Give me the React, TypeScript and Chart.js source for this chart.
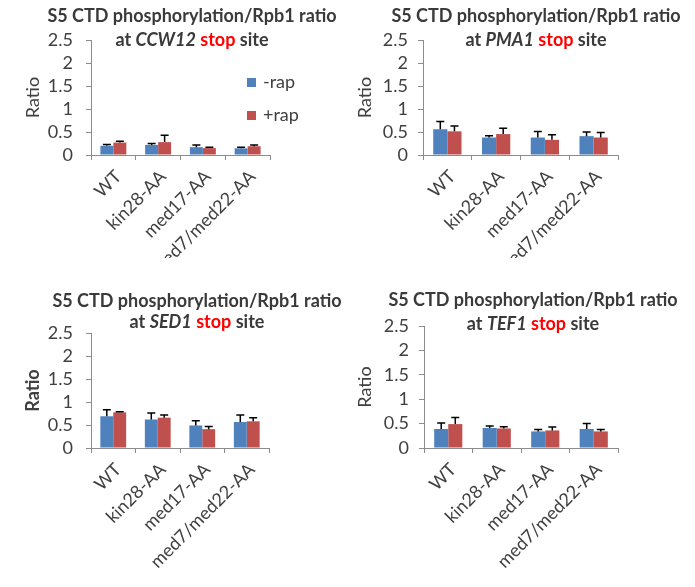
import React, { useEffect, useRef } from "react";
import { Chart, registerables } from "chart.js";

Chart.register(...registerables);

// ---------- data ----------
const categories = ["WT", "kin28-AA", "med17-AA", "med7/med22-AA"];
const seriesNames = ["-rap", "+rap"];
const yTicks = [0, 0.5, 1, 1.5, 2, 2.5];

// CCW12
const ccw12Minus = [0.2, 0.22, 0.17, 0.145];
const ccw12MinusErr = [0.03, 0.03, 0.05, 0.025];
const ccw12Plus = [0.27, 0.28, 0.15, 0.19];
const ccw12PlusErr = [0.03, 0.15, 0.02, 0.03];

// PMA1
const pma1Minus = [0.56, 0.38, 0.38, 0.41];
const pma1MinusErr = [0.17, 0.04, 0.13, 0.09];
const pma1Plus = [0.515, 0.455, 0.33, 0.38];
const pma1PlusErr = [0.115, 0.125, 0.11, 0.11];

// SED1
const sed1Minus = [0.69, 0.62, 0.49, 0.565];
const sed1MinusErr = [0.14, 0.14, 0.1, 0.155];
const sed1Plus = [0.775, 0.66, 0.41, 0.58];
const sed1PlusErr = [0.015, 0.06, 0.06, 0.08];

// TEF1
const tef1Minus = [0.39, 0.41, 0.34, 0.39];
const tef1MinusErr = [0.12, 0.04, 0.04, 0.11];
const tef1Plus = [0.49, 0.4, 0.36, 0.34];
const tef1PlusErr = [0.135, 0.035, 0.07, 0.04];

// ---------- styling / layout ----------
const BLUE = "#4F81BD";
const RED = "#C0504D";
const AXIS = "#8c8c8c";
const TEXT = "#404040";
const FONT = "Lato, 'Open Sans', sans-serif";

type Panel = {
  gene: string;
  minus: number[];
  minusErr: number[];
  plus: number[];
  plusErr: number[];
  left: number;
  top: number;
  w: number;
  h: number;
  area: { left: number; right: number; top: number; bottom: number };
  yTitleBold: boolean;
  yTitlePad: number;
  tickPad: number;
  titleX: number;
  titleY1: number;
  titleY2: number;
  legend: boolean;
};

const panels: Panel[] = [
  {
    gene: "CCW12",
    minus: ccw12Minus, minusErr: ccw12MinusErr, plus: ccw12Plus, plusErr: ccw12PlusErr,
    left: 0, top: 0, w: 345, h: 258,
    area: { left: 91, right: 270, top: 40, bottom: 155 },
    yTitleBold: false, yTitlePad: 22, tickPad: 13,
    titleX: 192, titleY1: 16, titleY2: 40, legend: true,
  },
  {
    gene: "PMA1",
    minus: pma1Minus, minusErr: pma1MinusErr, plus: pma1Plus, plusErr: pma1PlusErr,
    left: 345, top: 0, w: 350, h: 258,
    area: { left: 78, right: 273, top: 40, bottom: 155 },
    yTitleBold: false, yTitlePad: 9, tickPad: 10,
    titleX: 536, titleY1: 16, titleY2: 40, legend: false,
  },
  {
    gene: "SED1",
    minus: sed1Minus, minusErr: sed1MinusErr, plus: sed1Plus, plusErr: sed1PlusErr,
    left: 0, top: 285, w: 345, h: 302,
    area: { left: 91, right: 269, top: 48, bottom: 163 },
    yTitleBold: true, yTitlePad: 22, tickPad: 13,
    titleX: 197, titleY1: 301, titleY2: 322, legend: false,
  },
  {
    gene: "TEF1",
    minus: tef1Minus, minusErr: tef1MinusErr, plus: tef1Plus, plusErr: tef1PlusErr,
    left: 345, top: 285, w: 350, h: 302,
    area: { left: 79, right: 273, top: 41, bottom: 163 },
    yTitleBold: false, yTitlePad: 9, tickPad: 10,
    titleX: 533, titleY1: 300, titleY2: 324, legend: false,
  },
];

const errorBarPlugin = {
  id: "errorBars",
  afterDatasetsDraw(chart: any) {
    const ctx = chart.ctx;
    const yScale = chart.scales.y;
    ctx.save();
    ctx.strokeStyle = "#000";
    ctx.lineWidth = 1.5;
    chart.data.datasets.forEach((ds: any, i: number) => {
      const meta = chart.getDatasetMeta(i);
      const errs: number[] = ds.errors || [];
      meta.data.forEach((bar: any, j: number) => {
        const v = ds.data[j];
        const topPx = yScale.getPixelForValue(v + errs[j]);
        const basePx = yScale.getPixelForValue(v);
        ctx.beginPath();
        ctx.moveTo(bar.x, basePx);
        ctx.lineTo(bar.x, topPx);
        ctx.moveTo(bar.x - 4, topPx);
        ctx.lineTo(bar.x + 4, topPx);
        ctx.stroke();
      });
    });
    ctx.restore();
  },
};

function PanelChart({ p }: { p: Panel }) {
  const ref = useRef<HTMLCanvasElement>(null);
  useEffect(() => {
    if (!ref.current) return;
    const chart = new Chart(ref.current, {
      type: "bar",
      data: {
        labels: categories,
        datasets: [
          {
            label: seriesNames[0],
            data: p.minus,
            errors: p.minusErr,
            backgroundColor: BLUE,
            categoryPercentage: 0.58,
            barPercentage: 1.0,
          } as any,
          {
            label: seriesNames[1],
            data: p.plus,
            errors: p.plusErr,
            backgroundColor: RED,
            categoryPercentage: 0.58,
            barPercentage: 1.0,
          } as any,
        ],
      },
      options: {
        responsive: false,
        maintainAspectRatio: false,
        animation: false,
        devicePixelRatio: 1,
        layout: {
          padding: { left: 0, top: p.area.top, right: p.w - p.area.right, bottom: 0 },
        },
        plugins: {
          legend: { display: false },
          tooltip: { enabled: false },
          title: { display: false },
        },
        scales: {
          x: {
            afterFit: (s: any) => {
              s.height = p.h - p.area.bottom;
            },
            grid: {
              display: true,
              drawOnChartArea: false,
              offset: true,
              color: AXIS,
              tickLength: 5,
            },
            border: { display: true, color: AXIS, width: 1 },
            ticks: {
              minRotation: 45,
              maxRotation: 45,
              autoSkip: false,
              color: TEXT,
              padding: 6,
              labelOffset: 5,
              font: { family: FONT, size: 18 },
            },
          },
          y: {
            min: 0,
            max: 2.5,
            afterFit: (s: any) => {
              s.width = p.area.left;
            },
            afterBuildTicks: (s: any) => {
              s.ticks = yTicks.map((v) => ({ value: v }));
            },
            grid: {
              display: true,
              drawOnChartArea: false,
              color: AXIS,
              tickLength: 5,
            },
            border: { display: true, color: AXIS, width: 1 },
            ticks: {
              autoSkip: false,
              color: TEXT,
              padding: p.tickPad,
              font: { family: FONT, size: 18 },
              callback: (v: any) => String(v),
            },
            title: {
              display: true,
              text: "Ratio",
              color: TEXT,
              padding: { top: p.yTitlePad, bottom: 0 },
              font: { family: FONT, size: 18, weight: p.yTitleBold ? "bold" : "normal" },
            },
          },
        },
      },
      plugins: [errorBarPlugin],
    });
    return () => chart.destroy();
  }, [p]);

  const lineStyle = (y: number): React.CSSProperties => ({
    position: "absolute",
    left: p.titleX - 200,
    width: 400,
    top: y - 11,
    textAlign: "center",
    fontFamily: FONT,
    fontWeight: "bold",
    fontSize: 18,
    lineHeight: "21px",
    color: "#3a3a3a",
    whiteSpace: "nowrap",
  });

  return (
    <>
      <canvas
        ref={ref}
        width={p.w}
        height={p.h}
        style={{ position: "absolute", left: p.left, top: p.top, width: p.w, height: p.h }}
      />
      <div style={lineStyle(p.titleY1)}>S5 CTD phosphorylation/Rpb1 ratio</div>
      <div style={lineStyle(p.titleY2)}>
        at <i>{p.gene}</i> <span style={{ color: "#ff0000" }}>stop</span> site
      </div>
      {p.legend && (
        <>
          {[BLUE, RED].map((c, i) => (
            <div key={i}>
              <div
                style={{
                  position: "absolute",
                  left: 247,
                  top: 78 + i * 33,
                  width: 9,
                  height: 9,
                  background: c,
                }}
              />
              <div
                style={{
                  position: "absolute",
                  left: 263,
                  top: 71 + i * 33,
                  fontFamily: FONT,
                  fontSize: 18,
                  lineHeight: "21px",
                  color: TEXT,
                }}
              >
                {seriesNames[i]}
              </div>
            </div>
          ))}
        </>
      )}
    </>
  );
}

export default function App() {
  return (
    <div
      style={{
        position: "absolute",
        left: 0,
        top: 0,
        width: 695,
        height: 587,
        background: "#fff",
        overflow: "hidden",
      }}
    >
      {panels.map((p) => (
        <PanelChart key={p.gene} p={p} />
      ))}
    </div>
  );
}
